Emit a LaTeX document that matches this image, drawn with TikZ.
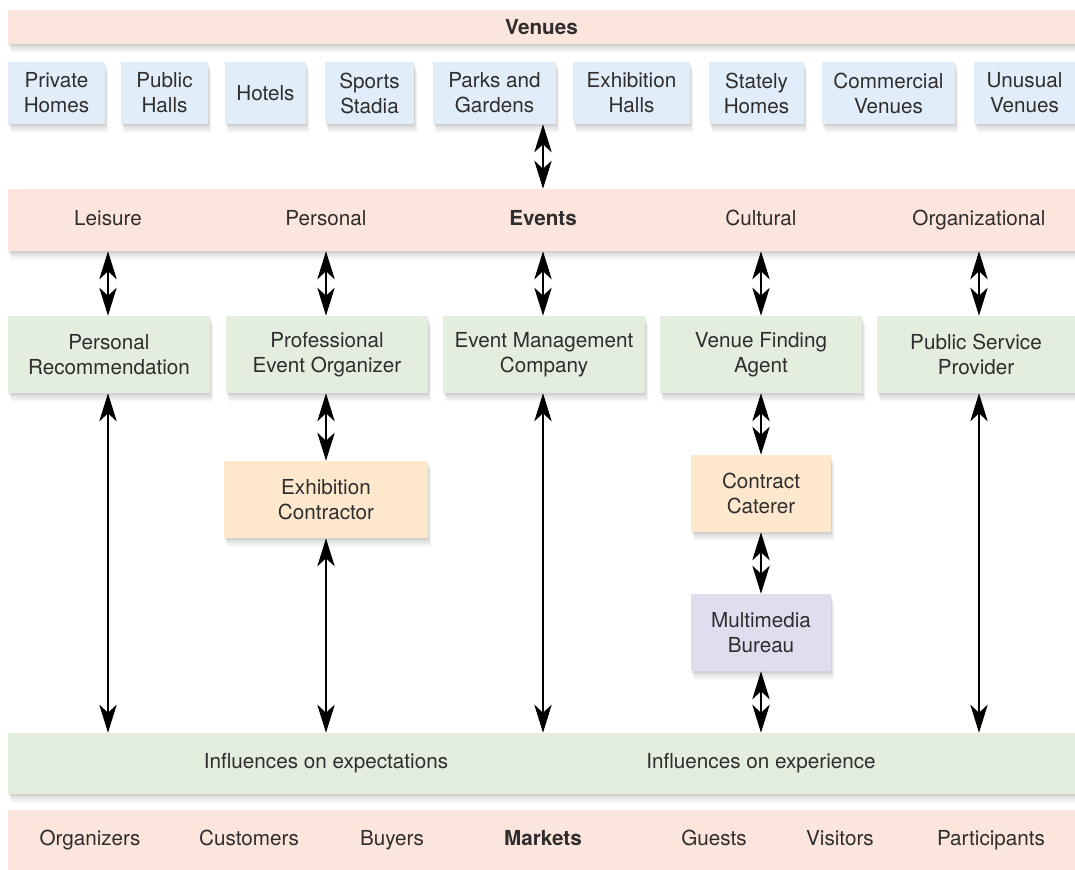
\documentclass[tikz,border=0pt]{standalone}
\usepackage{fontspec}
\setmainfont{TeX Gyre Heros}
\usetikzlibrary{arrows.meta,shadows}
\definecolor{peach}{HTML}{FCE5DC}
\definecolor{skyb}{HTML}{E1EEF9}
\definecolor{mint}{HTML}{E3EEDF}
\definecolor{sand}{HTML}{FDE8CD}
\definecolor{lav}{HTML}{DFDEEF}
\definecolor{ink}{HTML}{2F2D2D}
\tikzset{
  shd/.style={
    drop shadow={shadow xshift=2.5pt, shadow yshift=-7pt, opacity=.05},
    drop shadow={shadow xshift=2pt, shadow yshift=-5.5pt, opacity=.07},
    drop shadow={shadow xshift=1.5pt, shadow yshift=-4pt, opacity=.08},
    drop shadow={shadow xshift=1pt, shadow yshift=-2.5pt, opacity=.09},
    drop shadow={shadow xshift=.5pt, shadow yshift=-1.2pt, opacity=.10}},
  bxs/.style={shd, inner sep=0pt, align=center, text=ink, font=\fontsize{15.5}{18.75}\selectfont},
  lbl/.style={inner sep=0pt, text=ink, text height=11.5pt, text depth=3.5pt, font=\fontsize{15.5}{18.75}\selectfont},
  arr/.style={line width=1.8pt, draw=black, {Stealth[length=21pt,width=13pt,inset=6pt]}-{Stealth[length=21pt,width=13pt,inset=6pt]}},
}
\newcommand\bx[7]{\node[bxs,fill=#1,minimum width={(#5-#3)*0.75pt},minimum height={(#6-#4)*0.75pt}] (#2) at ({(#3+#5)/2},{(#4+#6)/2}) {#7};}
\begin{document}
\begin{tikzpicture}[x=0.75pt,y=-0.75pt]
\useasboundingbox (0,0) rectangle (1075,869);
\fill[white] (0,0) rectangle (1075,869);
% Venues
\bx{peach}{venues}{8}{10}{1075}{44}{\textbf{Venues}}
\bx{skyb}{v1}{8}{62}{105}{124}{Private\\Homes}
\bx{skyb}{v2}{121}{62}{208}{124}{Public\\Halls}
\bx{skyb}{v3}{225}{62}{306}{124}{Hotels}
\bx{skyb}{v4}{325}{62}{414}{124}{Sports\\Stadia}
\bx{skyb}{v5}{433}{62}{556}{124}{Parks and\\Gardens}
\bx{skyb}{v6}{573}{62}{690}{124}{Exhibition\\Halls}
\bx{skyb}{v7}{709}{62}{804}{124}{Stately\\Homes}
\bx{skyb}{v8}{822}{62}{955}{124}{Commercial\\Venues}
\bx{skyb}{v9}{974}{62}{1075}{124}{Unusual\\Venues}
% Events
\bx{peach}{events}{8}{189}{1075}{251}{}
\node[lbl] (e1) at (108,220) {Leisure};
\node[lbl] (e2) at (326,220) {Personal};
\node[lbl] (e3) at (543,220) {\textbf{Events}};
\node[lbl] (e4) at (761,220) {Cultural};
\node[lbl] (e5) at (979,220) {Organizational};
% intermediaries
\bx{mint}{p1}{8}{316}{210}{393}{Personal\\Recommendation}
\bx{mint}{p2}{226}{316}{428}{393}{Professional\\Event Organizer}
\bx{mint}{p3}{443}{316}{645}{393}{Event Management\\Company}
\bx{mint}{p4}{660}{316}{862}{393}{Venue Finding\\Agent}
\bx{mint}{p5}{877}{316}{1075}{393}{Public Service\\Provider}
\bx{sand}{ec}{224}{461}{428}{538}{Exhibition\\Contractor}
\bx{sand}{cc}{691}{455}{831}{532}{Contract\\Caterer}
\bx{lav}{mb}{691}{594}{831}{671}{Multimedia\\Bureau}
% Influences
\bx{mint}{infl}{8}{733}{1075}{794}{}
\node[lbl] (i1) at (326,763) {Influences on expectations};
\node[lbl] (i2) at (761,763) {Influences on experience};
% Markets
\bx{peach}{markets}{8}{810}{1075}{880}{}
\node[lbl] (m1) at (90,840) {Organizers};
\node[lbl] (m2) at (249,840) {Customers};
\node[lbl] (m3) at (392,840) {Buyers};
\node[lbl] (m4) at (543,840) {\textbf{Markets}};
\node[lbl] (m5) at (714,840) {Guests};
\node[lbl] (m6) at (840,840) {Visitors};
\node[lbl] (m7) at (991,840) {Participants};
% arrows
\draw[arr] (v5.south -| e3.south) -- (e3.south |- events.north);
\draw[arr] (e1.south |- events.south) -- (e1.south |- p1.north);
\draw[arr] (e2.south |- events.south) -- (e2.south |- p2.north);
\draw[arr] (e3.south |- events.south) -- (e3.south |- p3.north);
\draw[arr] (e4.south |- events.south) -- (e4.south |- p4.north);
\draw[arr] (e5.south |- events.south) -- (e5.south |- p5.north);
\draw[arr] (e1.south |- p1.south) -- (e1.south |- infl.north);
\draw[arr] (e2.south |- p2.south) -- (e2.south |- ec.north);
\draw[arr] (e2.south |- ec.south) -- (e2.south |- infl.north);
\draw[arr] (e3.south |- p3.south) -- (e3.south |- infl.north);
\draw[arr] (e4.south |- p4.south) -- (e4.south |- cc.north);
\draw[arr] (e4.south |- cc.south) -- (e4.south |- mb.north);
\draw[arr] (e4.south |- mb.south) -- (e4.south |- infl.north);
\draw[arr] (e5.south |- p5.south) -- (e5.south |- infl.north);
\end{tikzpicture}
\end{document}
